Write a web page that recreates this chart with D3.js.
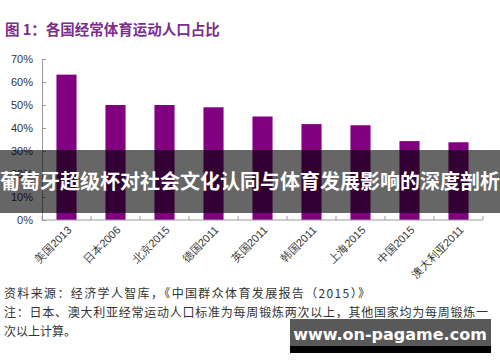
<!DOCTYPE html>
<html>
<head>
<meta charset="utf-8">
<script src="https://cdn.jsdelivr.net/npm/d3@7"></script>
<style>
  body { margin: 0; background: #fff; }
  svg { display: block; font-family: "Liberation Sans", Arial, sans-serif; }
</style>
</head>
<body>
<svg id="chart" width="500" height="362"></svg>
<script>
var categories = ['美国2013', '日本2006', '北京2015', '德国2011', '英国2011', '韩国2011', '上海2015', '中国2015', '澳大利亚2011'];
var values = [63.2, 50, 50, 49, 45, 41.7, 41.2, 34.3, 33.8];
var yTicks = [0, 10, 20, 30, 40, 50, 60, 70];
var title = '图 1：各国经常体育运动人口占比';
var banner = '葡萄牙超级杯对社会文化认同与体育发展影响的深度剖析';
var notes = [
  '资料来源：经济学人智库，《中国群众体育发展报告（2015）》',
  '注：日本、澳大利亚经常运动人口标准为每周锻炼两次以上，其他国家均为每周锻炼一',
  '次以上计算。'
];
var site = 'www.on-pagame.com';

(function() {
var svg = d3.select('#chart');
var pLeft = 42, pRight = 483, pTop = 59, pBottom = 220;

var x = d3.scaleBand().domain(categories).range([pLeft, pRight]).paddingInner(0.59).paddingOuter(0.295);
var y = d3.scaleLinear().domain([0, 70]).range([pBottom, pTop]);

// title
svg.append('text')
  .attr('x', 5).attr('y', 35)
  .attr('font-family', '"Noto Sans CJK SC", sans-serif')
  .attr('font-size', 14.5).attr('font-weight', 'bold')
  .attr('fill', '#7b2d8e')
  .text(title);

// bars
svg.selectAll('rect.bar').data(values).enter().append('rect')
  .attr('class', 'bar')
  .attr('x', function(d, i){ return x(categories[i]); })
  .attr('y', function(d){ return y(d); })
  .attr('width', x.bandwidth())
  .attr('height', function(d){ return y(0) - y(d); })
  .attr('fill', '#800080');

// y axis
var yAxis = svg.append('g')
  .attr('transform', 'translate(' + pLeft + ',0)')
  .call(d3.axisLeft(y).tickValues(yTicks).tickSize(-4).tickPadding(9).tickFormat(function(d){ return d + '%'; }));
yAxis.select('.domain').attr('stroke', '#999');
yAxis.selectAll('.tick line').attr('stroke', '#999');
yAxis.selectAll('.tick text').attr('font-size', 11).attr('fill', '#333');

// x axis
var xAxis = svg.append('g')
  .attr('transform', 'translate(0,' + pBottom + ')');
xAxis.append('line')
  .attr('x1', pLeft).attr('x2', pRight).attr('y1', 0).attr('y2', 0)
  .attr('stroke', '#999');
var step = x.step();
xAxis.selectAll('line.sep').data(d3.range(categories.length + 1)).enter().append('line')
  .attr('class', 'sep')
  .attr('x1', function(i){ return pLeft + i * step; })
  .attr('x2', function(i){ return pLeft + i * step; })
  .attr('y1', 0).attr('y2', -4)
  .attr('stroke', '#999');
xAxis.selectAll('text').data(categories).enter().append('text')
  .attr('transform', function(d){ return 'translate(' + (x(d) + x.bandwidth() / 2 + 3) + ',8) rotate(-45)'; })
  .attr('text-anchor', 'end')
  .attr('dy', '0.35em')
  .attr('font-size', 11)
  .attr('fill', '#333')
  .text(function(d){ return d; });

// notes
var noteWidths = [366, 484, null];
svg.selectAll('text.note').data(notes).enter().append('text')
  .attr('class', 'note')
  .attr('x', 4)
  .attr('y', function(d, i){ return 298 + i * 19; })
  .attr('font-family', '"Noto Sans CJK SC", sans-serif')
  .attr('font-size', 12)
  .attr('fill', '#333')
  .attr('textLength', function(d, i){ return noteWidths[i]; })
  .attr('lengthAdjust', 'spacing')
  .text(function(d){ return d; });

// banner overlay
svg.append('rect')
  .attr('x', 0).attr('y', 150).attr('width', 500).attr('height', 63)
  .attr('fill', 'rgba(0,0,0,0.6)');
svg.append('text')
  .attr('x', 250).attr('y', 182)
  .attr('text-anchor', 'middle').attr('dy', '0.35em')
  .attr('font-family', '"Noto Sans CJK SC", sans-serif')
  .attr('font-size', 20).attr('font-weight', 'bold')
  .attr('fill', '#fff')
  .text(banner);

// site box
svg.append('rect')
  .attr('x', 290).attr('y', 319).attr('width', 201).attr('height', 34)
  .attr('fill', '#000');
svg.append('rect')
  .attr('x', 290).attr('y', 319).attr('width', 201).attr('height', 27)
  .attr('fill', '#595959');
svg.append('text')
  .attr('x', 390).attr('y', 334)
  .attr('text-anchor', 'middle').attr('dy', '0.35em')
  .attr('font-family', '"DejaVu Sans", sans-serif')
  .attr('font-size', 16).attr('font-weight', 'bold')
  .attr('fill', '#fff')
  .text(site);
})();
</script>
</body>
</html>
